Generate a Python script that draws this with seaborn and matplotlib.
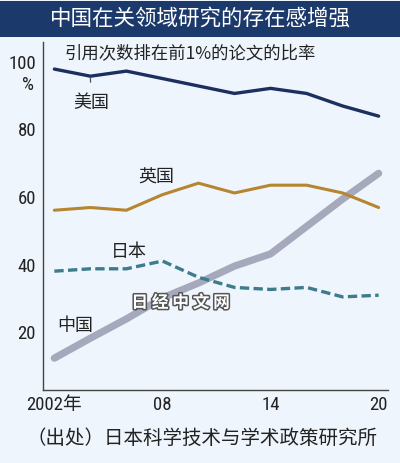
import matplotlib
matplotlib.use("Agg")
import matplotlib.pyplot as plt
import matplotlib.patheffects as pe
import seaborn as sns
import pandas as pd

# share of papers in the top 1% by citations (%), every 2 years
years = [2002, 2004, 2006, 2008, 2010, 2012, 2014, 2016, 2018, 2020]
us = [97.8, 95.7, 97.2, 95.0, 92.8, 90.6, 92.1, 90.6, 86.9, 83.9]
uk = [56.1, 56.9, 56.1, 60.7, 64.1, 61.2, 63.5, 63.5, 61.2, 56.9]
japan = [38.1, 38.8, 38.8, 41.1, 36.3, 33.3, 32.7, 33.3, 30.5, 31.0]
china = [12.4, 18.3, 24.0, 30.2, 34.6, 39.6, 43.2, 51.3, 59.4, 67.0]

xtick_pos = [2002, 2008, 2014, 2020]
xtick_labels = ["2002年", "08", "14", "20"]
ytick_pos = [20, 40, 60, 80, 100]

title = "中国在关领域研究的存在感增强"
subtitle = "引用次数排在前1%的论文的比率"
source = "（出处）日本科学技术与学术政策研究所"

bg = "#eef5fc"
sns.set_style("white")
plt.rcParams["font.family"] = ["Noto Sans CJK SC", "DejaVu Sans"]
num_font = ["Roboto Condensed", "Noto Sans CJK SC", "DejaVu Sans"]

fig = plt.figure(figsize=(4.0, 4.63), dpi=100, facecolor=bg)
ax = fig.add_axes([0.1075, 0.1577, 0.8625, 0.7516])
ax.set_facecolor(bg)

df = pd.DataFrame({"year": years, "us": us, "uk": uk, "japan": japan, "china": china})

sns.lineplot(data=df, x="year", y="china", ax=ax, color="#a6a8bb", linewidth=5.2,
             solid_capstyle="round")
sns.lineplot(data=df, x="year", y="japan", ax=ax, color="#3e7b8b", linewidth=2.4,
             linestyle=(0, (2.8, 1.3)))
sns.lineplot(data=df, x="year", y="uk", ax=ax, color="#b5852f", linewidth=2.2)
sns.lineplot(data=df, x="year", y="us", ax=ax, color="#1c2f5e", linewidth=2.4)

ax.set_xlim(2001.37, 2020.52)
ax.set_ylim(3.0, 105.8)
ax.set_xlabel("")
ax.set_ylabel("")

# the first label (with 年) is drawn separately so it stays centred on its tick
ax.set_xticks(years)
ax.set_xticklabels([xtick_labels[xtick_pos.index(y)] if y in xtick_pos[1:] else "" for y in years],
                   family=num_font, fontsize=13.5)
ax.annotate(xtick_labels[0], xy=(xtick_pos[0], 0), xycoords=ax.get_xaxis_transform(),
            xytext=(0, -4), textcoords="offset points", ha="center", va="top",
            family=num_font, fontsize=13.5, color="#222222")
ax.set_yticks(ytick_pos)
ax.set_yticklabels([str(v) for v in ytick_pos], family=num_font, fontsize=13.5)
ax.tick_params(axis="x", direction="in", length=4, width=1, color="#444444",
               pad=4, labelcolor="#222222")
ax.tick_params(axis="y", direction="out", length=3, width=1, color="#444444",
               pad=2, labelcolor="#222222")

for side in ["top", "right"]:
    ax.spines[side].set_visible(False)
for side in ["left", "bottom"]:
    ax.spines[side].set_color("#444444")
    ax.spines[side].set_linewidth(1)

# series labels
ax.annotate("美国", xy=(years[1], us[1]), xytext=(2004.04, 87.8), ha="center", va="center",
            fontsize=13, color="#222222",
            arrowprops=dict(arrowstyle="-", color="#555555", lw=0.9, shrinkA=6, shrinkB=1))
ax.text(2007.65, 65.7, "英国", ha="center", va="center", fontsize=13, color="#222222")
ax.text(2006.15, 43.8, "日本", ha="center", va="center", fontsize=13, color="#222222")
ax.text(2003.15, 22.0, "中国", ha="center", va="center", fontsize=13, color="#222222")

# watermark
ax.text(2009.0, 28.8, "日 经 中 文 网", ha="center", va="center", fontsize=12,
        fontweight="bold", color="white",
        path_effects=[pe.withStroke(linewidth=2.2, foreground="#555555")])

# title bar
fig.patches.append(plt.Rectangle((0, 1 - 37 / 463), 1, 36 / 463, transform=fig.transFigure,
                                 facecolor="#1b3a6b", edgecolor="none"))
fig.text(0.5, 1 - 19 / 463, title, ha="center", va="center", fontsize=15.5, color="white")

fig.text(190 / 400, 1 - 53 / 463, subtitle, ha="center", va="center", fontsize=12.5,
         color="#222222")
fig.text(28 / 400, 1 - 85 / 463, "%", ha="center", va="center", fontsize=13.5,
         family=num_font, color="#222222")
fig.text(26 / 400, 1 - 438 / 463, source, ha="left", va="center", fontsize=14,
         color="#222222")

fig.savefig("out.png", dpi=100, facecolor=bg)
plt.close(fig)
